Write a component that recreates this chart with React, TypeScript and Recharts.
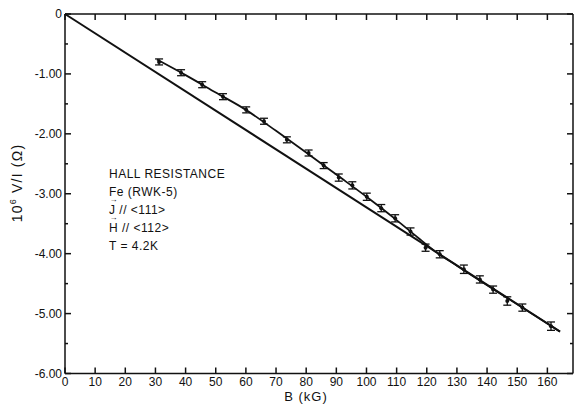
import { ComposedChart, Line, Scatter, ErrorBar, XAxis, YAxis } from "recharts";

// measured points (B in kG, 10^6 V/I in ohm)
const fieldKG = [31.2, 38.5, 45.5, 52.4, 60.1, 66.0, 73.6, 80.8, 85.8, 90.8, 95.3, 100.1, 104.9, 109.5, 114.6, 119.6, 124.3, 132.3, 137.6, 142.0, 146.7, 151.7, 161.2];
const hallV = [-0.8, -0.98, -1.18, -1.38, -1.6, -1.79, -2.1, -2.32, -2.53, -2.73, -2.86, -3.05, -3.24, -3.41, -3.63, -3.9, -4.01, -4.26, -4.43, -4.6, -4.79, -4.9, -5.21];
const hallErr = [0.05, 0.05, 0.05, 0.05, 0.05, 0.05, 0.05, 0.05, 0.05, 0.06, 0.06, 0.06, 0.06, 0.06, 0.06, 0.06, 0.06, 0.07, 0.06, 0.06, 0.07, 0.06, 0.07];

// smooth curve drawn through the points
const curveB = [30.5, 40, 50, 60, 70, 80, 90, 100, 110, 117, 123, 130, 164.2];
const curveV = [-0.76, -1.02, -1.31, -1.6, -1.95, -2.31, -2.68, -3.05, -3.44, -3.73, -3.97, -4.2, -5.3];

// straight line from the origin
const lineB = [0, 164.2];
const lineV = [0, -5.3];

const xTicks = [0, 10, 20, 30, 40, 50, 60, 70, 80, 90, 100, 110, 120, 130, 140, 150, 160];
const yTicks = [0, -0.5, -1, -1.5, -2, -2.5, -3, -3.5, -4, -4.5, -5, -5.5, -6];

// annotation block: [vector arrow?, text]
const notes: [boolean, string][] = [
  [false, "HALL RESISTANCE"],
  [false, "Fe (RWK-5)"],
  [true, "J // <111>"],
  [true, "H // <112>"],
  [false, "T = 4.2K"],
];

const points = fieldKG.map((b, i) => ({ b, v: hallV[i], err: hallErr[i] }));
const curve = curveB.map((b, i) => ({ b, v: curveV[i] }));
const straight = lineB.map((b, i) => ({ b, v: lineV[i] }));

const INK = "#111";
const font = "'Liberation Sans', Arial, sans-serif";
const tickStyle = { fontSize: 12, fill: INK, fontFamily: font };
const frame = { stroke: INK, strokeWidth: 1.5 };
const blank = () => "";

const Dot = (props: any) => <circle cx={props.cx} cy={props.cy} r={2} fill={INK} />;

// y ticks: long at whole units, short at halves, pointing into the plot
const YTick = ({ x, y, payload, side }: any) => {
  const v = payload.value;
  const major = Number.isInteger(v);
  const dir = side === "left" ? 1 : -1;
  return (
    <g>
      <line x1={x} y1={y} x2={x + dir * (major ? 6 : 3)} y2={y} stroke={INK} strokeWidth={1.5} />
      {side === "left" && major && (
        <text x={x - 3} y={y} dy={4} textAnchor="end" {...tickStyle}>
          {v === 0 ? "0" : v.toFixed(2)}
        </text>
      )}
    </g>
  );
};

export default function App() {
  return (
    <div style={{ position: "absolute", left: 0, top: 0, background: "#fff" }}>
      <ComposedChart width={574} height={406} margin={{ top: 13.5, right: 0.5, bottom: 0, left: 0 }}>
        <XAxis
          dataKey="b"
          type="number"
          domain={[0, 168.5]}
          ticks={xTicks}
          interval={0}
          height={32.5}
          tickSize={-6}
          tickMargin={10}
          stroke={INK}
          axisLine={frame}
          tickLine={frame}
          tick={tickStyle}
        />
        <XAxis
          xAxisId="top"
          orientation="top"
          height={0.5}
          type="number"
          dataKey="b"
          domain={[0, 168.5]}
          ticks={xTicks}
          interval={0}
          tickSize={-6}
          tickFormatter={blank}
          stroke={INK}
          axisLine={frame}
          tickLine={frame}
        />
        <YAxis
          type="number"
          domain={[-6, 0]}
          ticks={yTicks}
          interval={0}
          width={65}
          tickSize={0}
          tickMargin={0}
          tickLine={false}
          stroke={INK}
          axisLine={frame}
          tick={<YTick side="left" />}
        />
        <YAxis
          yAxisId="right"
          orientation="right"
          width={0.5}
          type="number"
          domain={[-6, 0]}
          ticks={yTicks}
          interval={0}
          tickSize={0}
          tickMargin={0}
          tickLine={false}
          stroke={INK}
          axisLine={frame}
          tick={<YTick side="right" />}
        />

        {/* invisible series bound to the frame axes */}
        <Line data={straight} dataKey="v" xAxisId="top" yAxisId="right" stroke="none" dot={false} isAnimationActive={false} />

        <Line data={straight} dataKey="v" type="linear" stroke={INK} strokeWidth={2} dot={false} isAnimationActive={false} />
        <Line data={curve} dataKey="v" type="monotone" stroke={INK} strokeWidth={1.8} dot={false} isAnimationActive={false} />
        <Scatter data={points} dataKey="v" shape={Dot} isAnimationActive={false}>
          <ErrorBar dataKey="err" direction="y" width={4} stroke={INK} strokeWidth={1.3} />
        </Scatter>

        <text transform="translate(22,183) rotate(-90)" textAnchor="middle" fontFamily={font} fontSize={14} letterSpacing={1.2} fill={INK}>
          10<tspan dy={-6} fontSize={9}>6</tspan>
          <tspan dy={6}> V/I (Ω)</tspan>
        </text>
        <text x={306} y={401} textAnchor="middle" fontFamily={font} fontSize={13} letterSpacing={1} fill={INK}>
          B (kG)
        </text>
        {notes.map(([arrow, n], i) => (
          <g key={n}>
            {arrow && (
              <text x={109.5} y={166 + i * 18} fontFamily={font} fontSize={8} fill={INK}>
                →
              </text>
            )}
            <text x={109} y={178 + i * 18} fontFamily={font} fontSize={12} letterSpacing={0.5} fill={INK}>
              {n}
            </text>
          </g>
        ))}
      </ComposedChart>
    </div>
  );
}
